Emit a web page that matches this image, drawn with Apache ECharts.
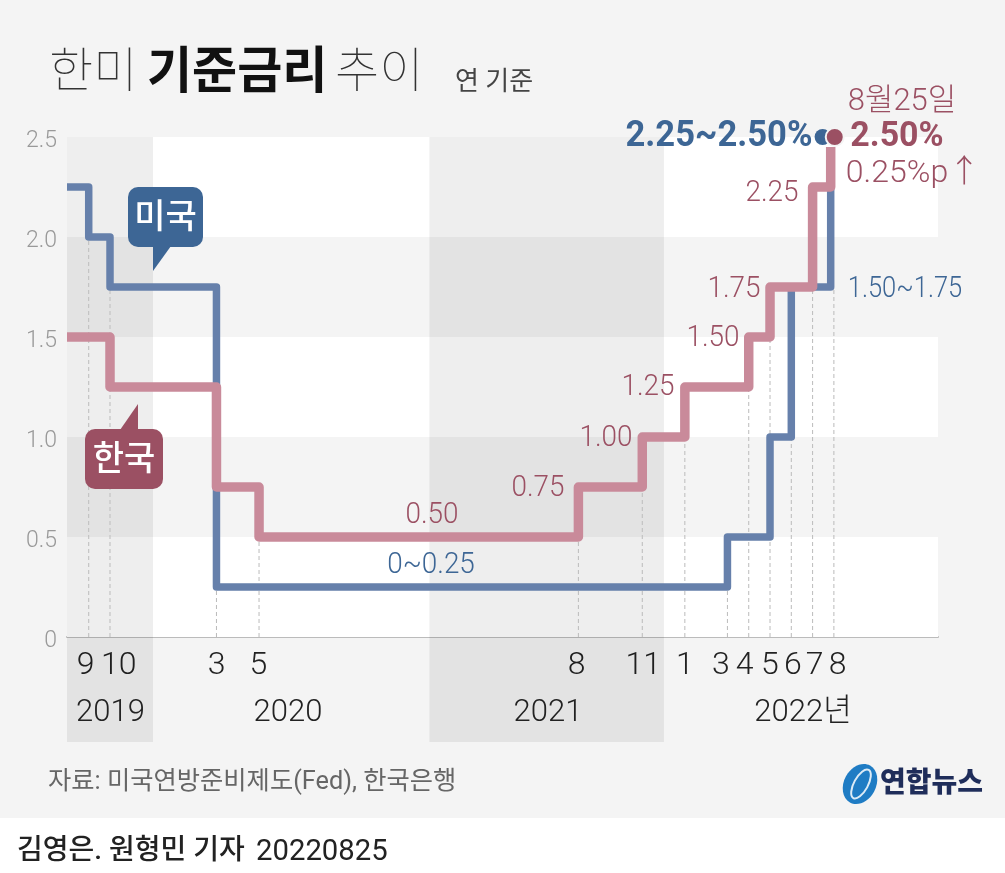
<!DOCTYPE html>
<html lang="ko">
<head>
<meta charset="utf-8">
<title>한미 기준금리 추이</title>
<style>
  html, body { margin: 0; padding: 0; background: #fff; }
  #chart { width: 1005px; height: 873px; background: linear-gradient(#f4f4f4 818px, #fff 818px); }
</style>
<script src="https://cdn.jsdelivr.net/npm/echarts@6/dist/echarts.min.js"></script>
</head>
<body>
<div id="chart"></div>
<script>
// x is a month count from 2019-09 (0), so 2020-03 = 6, 2022-08 = 35
const usMonths = [-1.02, 0, 1, 6, 30, 32, 33, 34.85];
const usRates = [2.25, 2.0, 1.75, 0.25, 0.5, 1.0, 1.75, 2.45];
const krMonths = [-1.02, 1, 6, 8, 23, 26, 28, 31, 32, 34, 34.85];
const krRates = [1.5, 1.25, 0.75, 0.5, 0.75, 1.0, 1.25, 1.5, 1.75, 2.25, 2.45];

const usDot = [34.47, 2.5];
const krDot = [35.04, 2.5];

// dashed drop lines: month and the height they reach
const dropMonths = [0, 1, 6, 8, 23, 26, 28, 30, 31, 32, 33, 34, 35];
const dropTops = [2.0, 1.75, 0.25, 0.5, 0.5, 0.75, 1.0, 0.25, 1.25, 1.5, 1.0, 1.75, 1.75];

const tickLabels = ['9', '10', '3', '5', '8', '11', '1', '3', '4', '5', '6', '7', '8'];
const tickPlaces = [-0.14, 1.41, 6.01, 7.97, 22.92, 26.05, 28, 29.69, 30.81, 31.99, 33.07, 34.1, 35.18];
const yTicks = [0, 0.5, 1, 1.5, 2, 2.5];

const whiteRows = [[2.5, 2], [1.5, 1], [0.5, 0]];
const yearBands = [[-1.02, 3.02], [16, 27.02]];

const xMin = -1.02, xMax = 39.89, bandBottom = -0.525;
const BLUE = '#3d6695', RED = '#9b5063';
const KR = 'Roboto, "Noto Sans CJK KR", sans-serif';

function rectSeries(rows, color, z) {
  return {
    type: 'custom', z, silent: true, data: rows,
    renderItem(params, api) {
      const a = api.coord([api.value(0), api.value(2)]);
      const b = api.coord([api.value(1), api.value(3)]);
      return { type: 'rect', shape: { x: a[0], y: a[1], width: b[0] - a[0], height: b[1] - a[1] }, style: { fill: color } };
    }
  };
}

function txt(text, x, y, size, color, o) {
  o = o || {};
  return {
    type: 'text', x, y, z: 20, scaleX: o.sx || 1,
    style: {
      text, fill: color, align: o.align || 'center', verticalAlign: 'middle',
      font: (o.weight || 300) + ' ' + size + 'px ' + KR
    }
  };
}

const graphics = [
  // title
  txt('한미', 49, 75, 48, '#333', { align: 'left', weight: 100 }),
  txt('기준금리', 147, 75, 50, '#111', { align: 'left', weight: 700, sx: 0.98 }),
  txt('추이', 335, 75, 48, '#333', { align: 'left', weight: 100 }),
  txt('연 기준', 455, 83, 26, '#444', { align: 'left', weight: 400 }),
  // callouts
  { type: 'rect', z: 15, shape: { x: 128, y: 187, width: 75, height: 60, r: 10 }, style: { fill: BLUE } },
  { type: 'polygon', z: 15, shape: { points: [[153, 246], [153, 271], [171, 246]] }, style: { fill: BLUE } },
  txt('미국', 165.5, 219, 34, '#fff', { weight: 500 }),
  { type: 'rect', z: 15, shape: { x: 85, y: 429, width: 78, height: 60, r: 10 }, style: { fill: RED } },
  { type: 'polygon', z: 15, shape: { points: [[120, 430], [138, 404], [138, 430]] }, style: { fill: RED } },
  txt('한국', 124, 461, 34, '#fff', { weight: 500 }),
  // rate labels
  txt('0.50', 432, 515, 30, RED, { sx: 0.93 }),
  txt('0~0.25', 431, 565, 30, BLUE, { sx: 0.93 }),
  txt('0.75', 538, 488, 30, RED, { sx: 0.93 }),
  txt('1.00', 606, 438, 30, RED, { sx: 0.93 }),
  txt('1.25', 648, 387, 30, RED, { sx: 0.93 }),
  txt('1.50', 713, 338, 30, RED, { sx: 0.93 }),
  txt('1.75', 734, 289, 30, RED, { sx: 0.93 }),
  txt('2.25', 772, 193, 30, RED, { sx: 0.93 }),
  txt('1.50~1.75', 905, 289, 30, BLUE, { sx: 0.85 }),
  txt('2.25~2.50%', 719, 137, 36, BLUE, { weight: 700, sx: 0.96 }),
  txt('8월25일', 902, 102, 31, RED),
  txt('2.50%', 897, 137, 35, RED, { weight: 700, sx: 0.97 }),
  txt('0.25%p↑', 913, 174, 32, RED),
  // years
  txt('2019', 110.5, 713, 32, '#222', { sx: 0.97 }),
  txt('2020', 288, 713, 32, '#222', { sx: 0.97 }),
  txt('2021', 548, 713, 32, '#222', { sx: 0.97 }),
  txt('2022년', 803, 713, 32, '#222', { sx: 0.97 }),
  // source and credit
  txt('자료: 미국연방준비제도(Fed), 한국은행', 48, 783, 25, '#666', { align: 'left', weight: 400, sx: 1.012 }),
  txt('김영은. 원형민 기자', 17, 852, 28, '#222', { align: 'left', weight: 500 }),
  txt('20220825', 256, 853, 29, '#222', { align: 'left', weight: 400, sx: 1.01 }),
  // logo
  { type: 'ellipse', z: 15, x: 860, y: 784, rotation: -0.5, shape: { cx: 0, cy: 0, rx: 16, ry: 21 }, style: { fill: '#1f7cc4' } },
  { type: 'ellipse', z: 16, x: 861, y: 784, rotation: -0.5, shape: { cx: 0, cy: 0, rx: 7, ry: 16 }, style: { fill: 'none', stroke: '#dcebf6', lineWidth: 2 } },
  txt('연합뉴스', 880, 785, 28, '#1f2d5a', { align: 'left', weight: 900 })
];

const myChart = echarts.init(document.getElementById('chart'), null, { renderer: 'canvas' });
const option = {
  animation: false,
  grid: { left: 67, top: 137, width: 871, height: 500, containLabel: false },
  xAxis: {
    type: 'value', min: xMin, max: xMax,
    splitLine: { show: false },
    axisTick: { show: false },
    axisLine: { onZero: false, lineStyle: { color: '#bbb', width: 2 } },
    axisLabel: {
      customValues: tickPlaces,
      formatter: value => tickLabels[tickPlaces.indexOf(value)],
      fontFamily: 'Roboto', fontWeight: 300, fontSize: 32, color: '#222', margin: 13
    }
  },
  yAxis: {
    type: 'value', min: 0, max: 2.5, interval: 0.5,
    splitLine: { show: false },
    axisTick: { show: false },
    axisLine: { show: false },
    axisLabel: {
      customValues: yTicks,
      formatter: v => (v === 0 ? '0' : v.toFixed(1)),
      fontFamily: 'Roboto', fontWeight: 300, fontSize: 23, color: '#999', margin: 10,
      verticalAlign: 'top', lineHeight: 8
    }
  },
  series: [
    rectSeries(whiteRows.map(r => [xMin, xMax, r[0], r[1]]), '#fff', 1),
    rectSeries(yearBands.map(b => [b[0], b[1], 2.5, bandBottom]), 'rgba(0,0,0,0.065)', 2),
    {
      type: 'custom', z: 3, silent: true,
      data: dropMonths.map((m, i) => [m, dropTops[i]]),
      renderItem(params, api) {
        const a = api.coord([api.value(0), 0]);
        const b = api.coord([api.value(0), api.value(1)]);
        return {
          type: 'line', shape: { x1: a[0], y1: a[1], x2: b[0], y2: b[1] },
          style: { stroke: '#bbb', lineWidth: 1, lineDash: [4, 3] }
        };
      }
    },
    {
      name: '미국', type: 'line', step: 'end', z: 5, showSymbol: false, silent: true,
      data: usMonths.map((m, i) => [m, usRates[i]]),
      lineStyle: { color: '#6680ab', width: 7.5, join: 'round' }
    },
    {
      name: '한국', type: 'line', step: 'end', z: 6, showSymbol: false, silent: true,
      data: krMonths.map((m, i) => [m, krRates[i]]),
      lineStyle: { color: '#c98a9a', width: 9.5, join: 'round' }
    },
    { type: 'scatter', z: 7, clip: false, silent: true, symbolSize: 16, data: [usDot], itemStyle: { color: BLUE, opacity: 1 } },
    {
      type: 'scatter', z: 8, clip: false, silent: true, symbolSize: 18, data: [krDot],
      itemStyle: { color: RED, opacity: 1, borderColor: '#f4f4f4', borderWidth: 2 }
    }
  ],
  graphic: { elements: graphics }
};
myChart.setOption(option);
</script>
</body>
</html>
